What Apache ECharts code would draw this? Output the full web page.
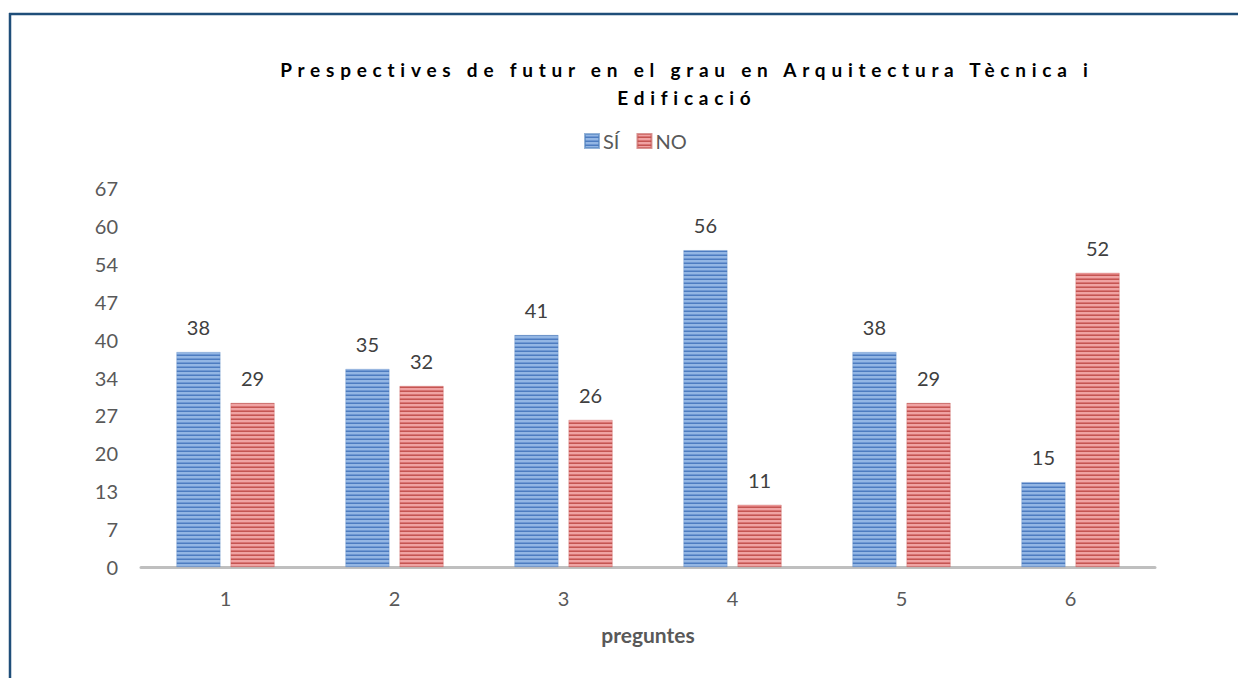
<!DOCTYPE html>
<html>
<head>
<meta charset="utf-8">
<script src="https://cdn.jsdelivr.net/npm/echarts@6/dist/echarts.min.js"></script>
<style>
html,body{margin:0;padding:0;background:#fff;}
#chart{width:1238px;height:678px;}
</style>
</head>
<body>
<div id="chart"></div>
<script>
const categories = ['1', '2', '3', '4', '5', '6'];
const seriesNames = ['SÍ', 'NO'];
const siValues = [38, 35, 41, 56, 38, 15];
const noValues = [29, 32, 26, 11, 29, 52];
const yTickLabels = ['0', '7', '13', '20', '27', '34', '40', '47', '54', '60', '67'];
const titleLines = ['Prespectives de futur en el grau en Arquitectura Tècnica i', 'Edificació'];
const xAxisName = 'preguntes';

function stripes(light, mid, dark) {
  const c = document.createElement('canvas');
  c.width = 4; c.height = 4;
  const ctx = c.getContext('2d');
  ctx.fillStyle = light; ctx.fillRect(0, 0, 4, 2);
  ctx.fillStyle = mid; ctx.fillRect(0, 2, 4, 1);
  ctx.fillStyle = dark; ctx.fillRect(0, 3, 4, 1);
  return c;
}
const bluePat = { image: stripes('#93B6E4', '#6F98D3', '#4D7CC0'), repeat: 'repeat' };
const redPat = { image: stripes('#F0A3A3', '#D97474', '#C45552'), repeat: 'repeat' };

const FONT = 'Lato, "Open Sans", sans-serif';
const chart = echarts.init(document.getElementById('chart'), null, { renderer: 'svg' });
chart.setOption({
  animation: false,
  backgroundColor: '#fff',
  title: {
    text: titleLines.join('\n'),
    left: 679, top: 50, textAlign: 'center',
    textStyle: { fontFamily: FONT, fontWeight: 'bold', fontSize: 19, color: '#000', lineHeight: 28 }
  },
  legend: {
    data: seriesNames,
    left: 579, top: 126, itemWidth: 14, itemHeight: 14, itemGap: 17,
    icon: 'rect',
    textStyle: { fontFamily: FONT, fontSize: 20, color: '#595959', padding: [0, 0, 0, -1] }
  },
  grid: { left: 141, right: 83, top: 188, bottom: 111, containLabel: false },
  xAxis: {
    type: 'category', data: categories,
    name: xAxisName, nameLocation: 'middle', nameGap: 57,
    nameTextStyle: { fontFamily: FONT, fontWeight: 'bold', fontSize: 21, color: '#595959' },
    axisLine: { lineStyle: { color: '#BFBFBF', width: 3 } },
    axisTick: { show: false },
    axisLabel: { fontFamily: FONT, fontSize: 20, color: '#595959', margin: 21 }
  },
  yAxis: {
    type: 'value', min: 0, max: 67, interval: 6.7,
    axisLine: { show: false }, axisTick: { show: false }, splitLine: { show: false },
    axisLabel: {
      fontFamily: FONT, fontSize: 20, color: '#595959', margin: 23,
      formatter: function (v) { return yTickLabels[Math.round(v / 6.7)]; }
    }
  },
  series: [
    {
      name: seriesNames[0], type: 'bar', data: siValues, barWidth: 44, barGap: '23%',
      itemStyle: { color: bluePat, borderColor: 'rgba(79,129,189,0.6)', borderWidth: 0.5 },
      label: { show: true, position: 'top', distance: 15, fontFamily: FONT, fontSize: 20, color: '#404040' }
    },
    {
      name: seriesNames[1], type: 'bar', data: noValues, barWidth: 44,
      itemStyle: { color: redPat, borderColor: 'rgba(192,80,77,0.6)', borderWidth: 0.5 },
      label: { show: true, position: 'top', distance: 15, fontFamily: FONT, fontSize: 20, color: '#404040' }
    }
  ],
  graphic: [
    { type: 'line', shape: { x1: 9, y1: 14, x2: 1238, y2: 14 }, style: { stroke: '#1F4E79', lineWidth: 2.5 } },
    { type: 'line', shape: { x1: 10, y1: 13, x2: 10, y2: 678 }, style: { stroke: '#1F4E79', lineWidth: 2.5 } }
  ]
});

const TITLE_WIDTH = 808;
function spaceTitle() {
  const texts = Array.prototype.filter.call(document.querySelectorAll('#chart svg text'), function (t) {
    return titleLines.indexOf(t.textContent) >= 0;
  });
  const first = texts.find(function (t) { return t.textContent === titleLines[0]; });
  if (!first) return;
  first.style.letterSpacing = '0px';
  const L = first.getComputedTextLength();
  const n = titleLines[0].length;
  const s = Math.max(0, (TITLE_WIDTH - L) / (n - 1));
  texts.forEach(function (t) {
    t.style.letterSpacing = s + 'px';
    t.setAttribute('dx', (s / 2).toFixed(2));
  });
}
spaceTitle();
chart.on('finished', spaceTitle);
setTimeout(spaceTitle, 50);
</script>
</body>
</html>
